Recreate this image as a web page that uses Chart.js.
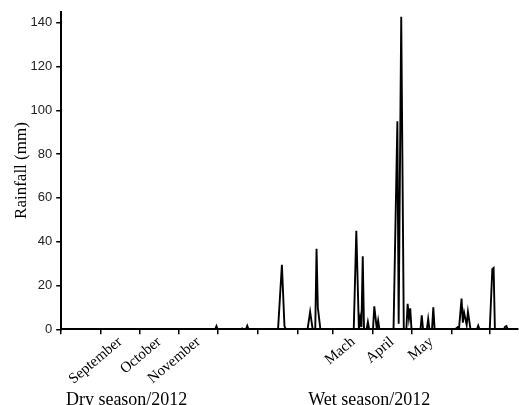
<!DOCTYPE html>
<html>
<head>
<meta charset="utf-8">
<script src="https://cdn.jsdelivr.net/npm/chart.js@4"></script>
<style>
body { margin: 0; background: #fff; }
</style>
</head>
<body>
<canvas id="rainChart" width="519" height="405"></canvas>
<script>
// day 0 = 1 Aug 2012
const monthStarts = [0, 31, 61, 92, 122, 153, 184, 212, 243, 273, 304, 334];
const monthLabelDays = [46, 76.5, 107, 227.5, 258, 288.5];
const monthLabels = ['September', 'October', 'November', 'Mach', 'April', 'May'];
const seasonDays = [51, 240];
const seasonLabels = ['Dry season/2012', 'Wet season/2012'];
const yTicks = [0, 20, 40, 60, 80, 100, 120, 140];

const rainDays = [0, 120, 121, 122, 140, 141, 142, 144, 145, 146,
    169, 172, 174, 175, 192, 194, 196, 198, 199, 200, 202,
    228, 230, 232, 233, 234, 235, 236, 238, 239, 240,
    243, 244, 246, 247, 248, 259, 262, 263, 265, 267,
    269, 270, 271, 272, 273, 280, 281, 282, 285, 286, 287, 289, 290, 291,
    307, 309, 310, 312, 313, 314, 316, 317, 319, 324, 325, 326,
    334, 336, 337, 338, 345, 346, 347, 348, 356];
const rainMm = [0, 0, 1.5, 0, 0, 0.4, 0, 0, 1.6, 0,
    0, 29.5, 1.5, 0, 0, 8, 0, 0, 36.8, 10, 0,
    0, 45, 0, 5, 1, 33.3, 0, 0, 3.3, 0,
    0, 10.5, 0, 4, 0, 0, 95, 2.5, 142.7, 0,
    0, 11.6, 5, 9.6, 0, 0, 6.4, 0, 0, 4.7, 0, 0, 10, 0,
    0, 1, 0, 14, 3, 7.6, 2, 8, 0, 0, 1.7, 0,
    0, 27.5, 28, 0, 0, 1.2, 1.5, 0, 0];

const points = rainDays.map((d, i) => ({x: d, y: rainMm[i]}));

const serif = 'Liberation Serif, Times New Roman, serif';

const chart = new Chart(document.getElementById('rainChart'), {
    type: 'line',
    data: {
        datasets: [{
            data: points,
            borderColor: '#000',
            borderWidth: 1.9,
            pointRadius: 0,
            tension: 0,
            fill: false
        }]
    },
    options: {
        responsive: false,
        animation: false,
        layout: { padding: { left: 3, top: 11, right: 1, bottom: 0 } },
        plugins: { legend: { display: false }, tooltip: { enabled: false } },
        scales: {
            x: {
                type: 'linear',
                min: 0,
                max: 356,
                position: 'bottom',
                afterBuildTicks: function(scale) {
                    let vals = monthStarts.concat(monthLabelDays).sort((a, b) => a - b);
                    scale.ticks = vals.map(v => ({value: v}));
                },
                ticks: {
                    autoSkip: false,
                    minRotation: 40,
                    maxRotation: 40,
                    padding: 0,
                    color: '#000',
                    font: { family: serif, size: 15, lineHeight: 1 },
                    callback: function(value) {
                        let i = monthLabelDays.indexOf(value);
                        return i >= 0 ? monthLabels[i] : '';
                    }
                },
                grid: {
                    drawOnChartArea: false,
                    tickLength: 5,
                    lineWidth: 1.5,
                    tickColor: ctx => (ctx.tick && monthLabelDays.includes(ctx.tick.value)) ? 'rgba(0,0,0,0)' : '#000'
                },
                border: { color: '#000', width: 2 }
            },
            season: {
                type: 'linear',
                min: 0,
                max: 356,
                position: 'bottom',
                afterBuildTicks: function(scale) {
                    scale.ticks = seasonDays.map(v => ({value: v}));
                },
                ticks: {
                    autoSkip: false,
                    maxRotation: 0,
                    padding: -4,
                    color: '#000',
                    font: { family: serif, size: 18, lineHeight: 1 },
                    callback: function(value) {
                        let i = seasonDays.indexOf(value);
                        return i >= 0 ? seasonLabels[i] : '';
                    }
                },
                grid: { display: false },
                border: { display: false }
            },
            y: {
                min: 0,
                max: 145,
                afterBuildTicks: function(scale) {
                    scale.ticks = yTicks.map(v => ({value: v}));
                },
                ticks: {
                    padding: 4,
                    color: '#222',
                    font: { family: 'Liberation Sans, Arial, sans-serif', size: 13 }
                },
                grid: {
                    drawOnChartArea: false,
                    tickLength: 5,
                    lineWidth: 1.5,
                    tickColor: '#000'
                },
                border: { color: '#000', width: 2 },
                title: {
                    display: true,
                    text: 'Rainfall (mm)',
                    color: '#000',
                    font: { family: serif, size: 17, lineHeight: 1 },
                    padding: { top: 10.5, bottom: -4 }
                }
            }
        }
    }
});
</script>
</body>
</html>
